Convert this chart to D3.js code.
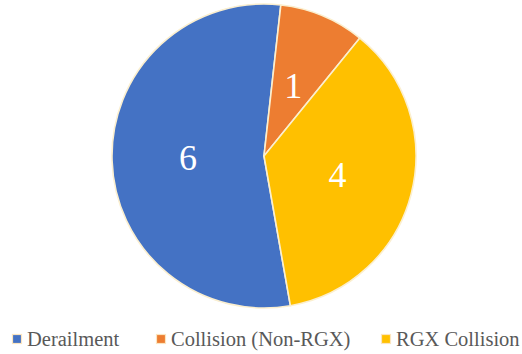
<!DOCTYPE html>
<html>
<head>
<meta charset="utf-8">
<script src="https://cdn.jsdelivr.net/npm/d3@7"></script>
<style>
  html, body { margin: 0; padding: 0; background: #ffffff; }
  svg { display: block; }
  svg text { font-family: "Liberation Serif", "Times New Roman", Times, serif; }
</style>
</head>
<body>
<svg id="chart" width="522" height="354"></svg>
<script>
// Incident counts by type
const categories = ["Derailment", "Collision (Non-RGX)", "RGX Collision"];
const values = [6, 1, 4];
const colors = ["#4472C4", "#ED7D31", "#FFC000"];

const width = 522, height = 354;
const cx = 264, cy = 156, radius = 152;
const firstSliceAngle = 170; // degrees, clockwise from top

const svg = d3.select("#chart");

const pie = d3.pie()
  .sort(null)
  .value(d => d.value)
  .startAngle(firstSliceAngle * Math.PI / 180)
  .endAngle((firstSliceAngle + 360) * Math.PI / 180);

const data = categories.map((c, i) => ({ category: c, value: values[i], color: colors[i] }));
const arcs = pie(data);

const arc = d3.arc().innerRadius(0).outerRadius(radius);

const g = svg.append("g").attr("transform", `translate(${cx},${cy})`);

g.selectAll("path.slice")
  .data(arcs)
  .join("path")
  .attr("class", "slice")
  .attr("d", arc)
  .attr("fill", d => d.data.color)
  .attr("stroke", "#FBEFCF")
  .attr("stroke-width", 1.6)
  .attr("stroke-linejoin", "round");

// value labels at slice centroids
g.selectAll("text.value")
  .data(arcs)
  .join("text")
  .attr("class", "value")
  .attr("x", d => arc.centroid(d)[0])
  .attr("y", d => arc.centroid(d)[1] + 12)
  .attr("text-anchor", "middle")
  .attr("font-size", 36)
  .attr("fill", "#ffffff")
  .text(d => d.data.value);

// legend
const legendX = [12, 156, 381];
const legend = svg.append("g");
const items = legend.selectAll("g.item")
  .data(data)
  .join("g")
  .attr("class", "item")
  .attr("transform", (d, i) => `translate(${legendX[i]},334)`);

items.append("rect")
  .attr("x", 0.5).attr("y", 0.5)
  .attr("width", 9).attr("height", 9)
  .attr("fill", d => d.color)
  .attr("stroke", "#FBE5C0")
  .attr("stroke-width", 1.2);

items.append("text")
  .attr("x", 15)
  .attr("y", 12)
  .attr("font-size", 20.5)
  .attr("fill", "#595959")
  .text(d => d.category);
</script>
</body>
</html>
